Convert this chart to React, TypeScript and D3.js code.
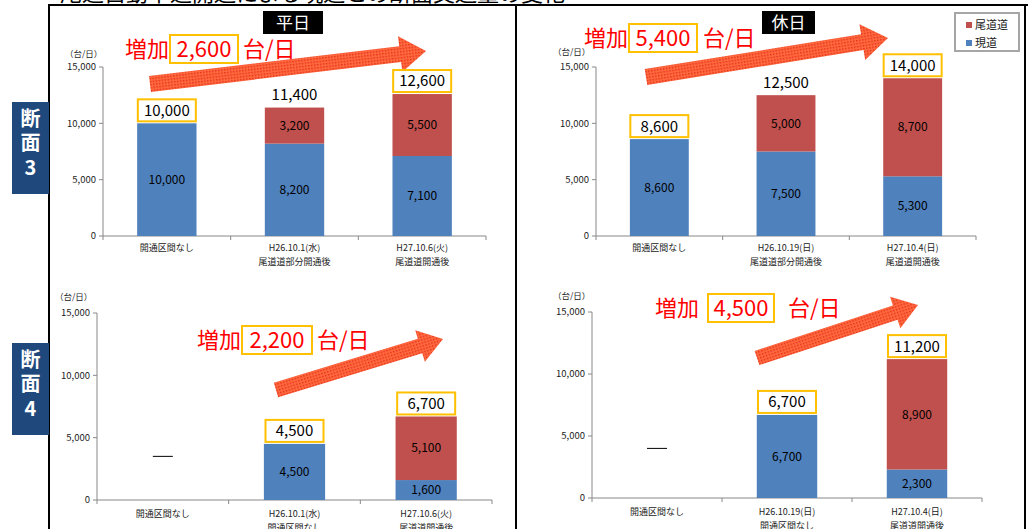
import React from "react";
import * as d3 from "d3";

// ---------- DATA ----------
const catsTopWeekday = ["開通区間なし", "H26.10.1(水)|尾道道部分開通後", "H27.10.6(火)|尾道道開通後"];
const catsTopHoliday = ["開通区間なし", "H26.10.19(日)|尾道道部分開通後", "H27.10.4(日)|尾道道開通後"];
const catsBotWeekday = ["開通区間なし", "H26.10.1(水)|開通区間なし", "H27.10.6(火)|尾道道開通後"];
const catsBotHoliday = ["開通区間なし", "H26.10.19(日)|開通区間なし", "H27.10.4(日)|尾道道開通後"];

const genTopWeekday = [10000, 8200, 7100];
const onoTopWeekday = [0, 3200, 5500];
const genTopHoliday = [8600, 7500, 5300];
const onoTopHoliday = [0, 5000, 8700];
const genBotWeekday = [null, 4500, 1600];
const onoBotWeekday = [null, 0, 5100];
const genBotHoliday = [null, 6700, 2300];
const onoBotHoliday = [null, 0, 8900];

const boxedTop = [true, false, true];
const boxedBot = [false, true, true];
const dashBotWeekday = 3500;
const dashBotHoliday = 4000;

const yTicks = [0, 5000, 10000, 15000];
const increases = ["2,600", "5,400", "2,200", "4,500"];
const seriesNames = ["尾道道", "現道"];

const BLUE = "#4F81BD";
const RED = "#C0504D";
const ORANGE = "#FFC000";
const FONT = "'Noto Sans CJK JP', 'Noto Sans', sans-serif";
const fmt = d3.format(",");

type PanelProps = {
  cats: string[];
  gen: (number | null)[];
  ono: (number | null)[];
  boxed: boolean[];
  dash?: number;
  axisX: number;
  axisEnd: number;
  y0: number;
  y15: number;
  labelY1: number;
  unitX: number;
  unitY: number;
};

function Panel(p: PanelProps) {
  const y = d3.scaleLinear().domain([0, 15000]).range([p.y0, p.y15]);
  const x = d3.scaleBand<string>().domain(p.cats).range([p.axisX, p.axisEnd]).padding(0);
  const bw = x.bandwidth() * 0.465;
  const tickXs = [...p.cats.map((c) => x(c) as number), p.axisEnd];
  return (
    <g fontFamily={FONT}>
      <text x={p.unitX} y={p.unitY} fontSize={8.5} fill="#222">（台/日）</text>
      <line x1={p.axisX} x2={p.axisX} y1={y(0)} y2={y(15000)} stroke="#888" />
      {yTicks.map((t) => (
        <g key={t}>
          <line x1={p.axisX - 4} x2={p.axisX} y1={y(t)} y2={y(t)} stroke="#888" />
          <text x={p.axisX - 7} y={y(t)} dy="0.35em" textAnchor="end" fontSize={9.5} fill="#222">
            {fmt(t)}
          </text>
        </g>
      ))}
      <line x1={p.axisX} x2={p.axisEnd} y1={y(0)} y2={y(0)} stroke="#888" />
      {tickXs.map((tx, i) => (
        <line key={i} x1={tx} x2={tx} y1={y(0)} y2={y(0) + 4} stroke="#888" />
      ))}
      {p.cats.map((c, i) => {
        const cx = (x(c) as number) + x.bandwidth() / 2;
        const lines = c.split("|");
        const g = p.gen[i];
        const o = p.ono[i];
        return (
          <g key={c}>
            {lines.map((ln, j) => (
              <text key={j} x={cx} y={p.labelY1 + j * 13.5} dy="0.35em" textAnchor="middle" fontSize={9} fill="#222">
                {ln}
              </text>
            ))}
            {g === null ? (
              p.dash !== undefined && (
                <line x1={cx - 10} x2={cx + 10} y1={y(p.dash)} y2={y(p.dash)} stroke="#000" strokeWidth={1} />
              )
            ) : (
              <g>
                <rect x={cx - bw / 2} y={y(g)} width={bw} height={y(0) - y(g)} fill={BLUE} />
                <text x={cx} y={(y(0) + y(g)) / 2} dy="0.35em" textAnchor="middle" fontSize={12} fill="#000">
                  {fmt(g)}
                </text>
                {o !== null && o > 0 && (
                  <g>
                    <rect x={cx - bw / 2} y={y(g + o)} width={bw} height={y(g) - y(g + o)} fill={RED} />
                    <text x={cx} y={(y(g) + y(g + o)) / 2} dy="0.35em" textAnchor="middle" fontSize={12} fill="#000">
                      {fmt(o)}
                    </text>
                  </g>
                )}
                {(() => {
                  const tot = g + (o || 0);
                  const ty = y(tot) - 13;
                  return (
                    <g>
                      {p.boxed[i] && (
                        <rect x={cx - 29} y={ty - 11} width={58} height={22} fill="white" stroke={ORANGE} strokeWidth={2} />
                      )}
                      <text x={cx} y={ty} dy="0.36em" textAnchor="middle" fontSize={15} fill="#000">
                        {fmt(tot)}
                      </text>
                    </g>
                  );
                })()}
              </g>
            )}
          </g>
        );
      })}
    </g>
  );
}

function Increase({ x, cy, boxX, boxW, restX, value }: { x: number; cy: number; boxX: number; boxW: number; restX: number; value: string }) {
  return (
    <g fontFamily={FONT} fontSize={22} fill="#FF0000">
      <text x={x} y={cy} dy="0.36em">増加</text>
      <rect x={boxX} y={cy - 14} width={boxW} height={28} fill="white" stroke={ORANGE} strokeWidth={2} />
      <text x={boxX + boxW / 2} y={cy} dy="0.36em" textAnchor="middle">{value}</text>
      <text x={restX} y={cy} dy="0.36em">台/日</text>
    </g>
  );
}

function Arrow({ x1, y1, x2, y2, w = 16, W = 36, hl = 26 }: { x1: number; y1: number; x2: number; y2: number; w?: number; W?: number; hl?: number }) {
  const L = Math.hypot(x2 - x1, y2 - y1);
  const ang = (Math.atan2(y2 - y1, x2 - x1) * 180) / Math.PI;
  const pts = [
    [0, -w / 2], [L - hl, -w / 2], [L - hl, -W / 2], [L, 0], [L - hl, W / 2], [L - hl, w / 2], [0, w / 2],
  ].map((q) => q.join(",")).join(" ");
  return <polygon points={pts} transform={`translate(${x1},${y1}) rotate(${ang})`} fill="url(#hatch)" />;
}

function SideLabel({ y, num }: { y: number; num: string }) {
  return (
    <g fontFamily={FONT} fontWeight="bold" fontSize={20} fill="white" textAnchor="middle">
      <rect x={12} y={y} width={37} height={92} fill="#1F497D" />
      <text x={30.5} y={y + 17} dy="0.36em">断</text>
      <text x={30.5} y={y + 41} dy="0.36em">面</text>
      <text x={30.5} y={y + 66} dy="0.36em">{num}</text>
    </g>
  );
}

export default function App() {
  return (
    <svg width={1028} height={529} style={{ position: "absolute", left: 0, top: 0, background: "white" }}>
      <defs>
        <pattern id="hatch" width={3} height={3} patternUnits="userSpaceOnUse">
          <rect width={3} height={3} fill="#FF6A3F" />
          <rect width={1.5} height={1.5} fill="#E5301A" />
        </pattern>
      </defs>
      <rect width={1028} height={529} fill="white" />
      <text x={60} y={1} fontFamily={FONT} fontSize={22} fill="#000">尾道自動車道開通による現道との断面交通量の変化</text>
      <line x1={49} x2={1028} y1={5} y2={5} stroke="#000" strokeWidth={2} />
      <line x1={49} x2={49} y1={4} y2={529} stroke="#000" strokeWidth={2} />
      <line x1={516} x2={516} y1={4} y2={529} stroke="#000" strokeWidth={2} />
      <line x1={1025} x2={1025} y1={4} y2={529} stroke="#000" strokeWidth={2} />

      <SideLabel y={102} num="3" />
      <SideLabel y={343} num="4" />

      <rect x={263} y={11} width={60} height={23} fill="#000" />
      <text x={293} y={22.5} dy="0.36em" textAnchor="middle" fontFamily={FONT} fontSize={17} fill="white">平日</text>
      <rect x={762} y={11} width={53} height={23} fill="#000" />
      <text x={788.5} y={22.5} dy="0.36em" textAnchor="middle" fontFamily={FONT} fontSize={17} fill="white">休日</text>

      <rect x={955} y={13} width={64} height={38} fill="white" stroke="#A6A6A6" strokeWidth={2} />
      <rect x={966} y={22} width={6} height={6} fill={RED} />
      <text x={975} y={25} dy="0.36em" fontFamily={FONT} fontSize={11} fill="#222">{seriesNames[0]}</text>
      <rect x={966} y={40} width={6} height={6} fill={BLUE} />
      <text x={975} y={43} dy="0.36em" fontFamily={FONT} fontSize={11} fill="#222">{seriesNames[1]}</text>

      <Arrow x1={150} y1={84} x2={426} y2={51} />
      <Arrow x1={646} y1={77} x2={888} y2={38} />
      <Arrow x1={276} y1={390} x2={443} y2={339} w={15} W={33} hl={24} />
      <Arrow x1={757} y1={358} x2={918} y2={305} w={15} W={33} hl={24} />

      <Panel cats={catsTopWeekday} gen={genTopWeekday} ono={onoTopWeekday} boxed={boxedTop}
        axisX={103} axisEnd={486} y0={236} y15={67} labelY1={248} unitX={65} unitY={57} />
      <Panel cats={catsTopHoliday} gen={genTopHoliday} ono={onoTopHoliday} boxed={boxedTop}
        axisX={596} axisEnd={976} y0={236} y15={67} labelY1={248} unitX={553} unitY={55} />
      <Panel cats={catsBotWeekday} gen={genBotWeekday} ono={onoBotWeekday} boxed={boxedBot} dash={dashBotWeekday}
        axisX={97} axisEnd={492} y0={500} y15={313} labelY1={514} unitX={55} unitY={300} />
      <Panel cats={catsBotHoliday} gen={genBotHoliday} ono={onoBotHoliday} boxed={boxedBot} dash={dashBotHoliday}
        axisX={592} axisEnd={982} y0={498} y15={312} labelY1={512} unitX={553} unitY={299} />

      <Increase x={125} cy={49} boxX={170} boxW={68} restX={243} value={increases[0]} />
      <Increase x={584} cy={38} boxX={629} boxW={68} restX={703} value={increases[1]} />
      <Increase x={197} cy={340} boxX={242} boxW={70} restX={317} value={increases[2]} />
      <Increase x={655} cy={308} boxX={708} boxW={66} restX={788} value={increases[3]} />
    </svg>
  );
}
